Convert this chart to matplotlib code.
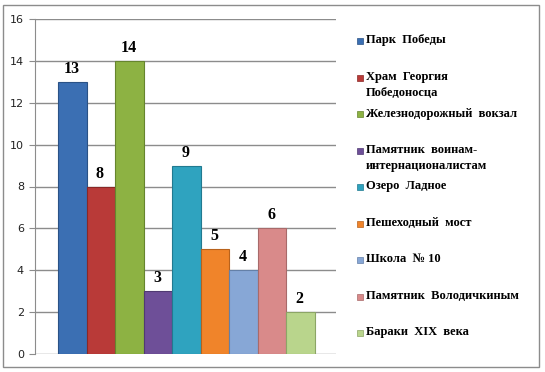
import matplotlib.pyplot as plt
from matplotlib.patches import Rectangle

places = ["Парк  Победы", "Храм  Георгия\nПобедоносца", "Железнодорожный  вокзал",
          "Памятник  воинам-\nинтернационалистам", "Озеро  Ладное", "Пешеходный  мост",
          "Школа  № 10", "Памятник  Володичкиным", "Бараки  XIX  века"]
votes = [13, 8, 14, 3, 9, 5, 4, 6, 2]
colors = ["#3b6fb3", "#b93a38", "#8db243", "#6e4f98", "#2fa3bf",
          "#f0842a", "#87a7d6", "#d98a8a", "#b9d58c"]
edges = ["#2a5286", "#8a2826", "#66852e", "#503a72", "#217a90",
         "#b8621c", "#6480a8", "#a86a6a", "#8ca566"]

W, H = 545, 372
fig = plt.figure(figsize=(W / 100, H / 100), dpi=100)
fig.patches.append(Rectangle((3 / W, 5 / H), 536 / W, 362 / H, transform=fig.transFigure,
                             fill=False, edgecolor="#8c8c8c", linewidth=1))

ax = fig.add_axes([35 / W, 1 - 354 / H, 301 / W, 335 / H])
x = list(range(len(votes)))
ax.bar(x, votes, width=1.0, color=colors, edgecolor=edges, linewidth=0.8, zorder=3)
for xi, v in zip(x, votes):
    ax.annotate(str(v), (xi, v), xytext=(-1, 13), textcoords="offset pixels",
                ha="center", va="center", fontsize=11.5, fontweight="bold",
                family="Liberation Serif", color="black")

ax.set_xlim(-1.31, 9.24)
ax.set_ylim(0, 16)
ax.set_yticks(range(0, 17, 2))
ax.set_xticks([])
ax.grid(axis="y", color="#8c8c8c", linewidth=1, zorder=0)
for s in ["top", "right", "bottom"]:
    ax.spines[s].set_visible(False)
ax.spines["left"].set_color("#8c8c8c")
ax.tick_params(axis="y", length=4, color="#8c8c8c", labelsize=8, labelcolor="#222222", pad=4)

for i, (lab, c, e) in enumerate(zip(places, colors, edges)):
    y = 41 + 36.5 * i
    fig.patches.append(Rectangle((357 / W, 1 - (y + 3) / H), 6 / W, 6 / H,
                                 transform=fig.transFigure, facecolor=c, edgecolor=e, linewidth=0.5))
    fig.text(366 / W, 1 - (y - 6.5) / H, lab, ha="left", va="top", fontsize=9,
             fontweight="bold", family="Liberation Serif", linespacing=1.4)

fig.savefig("out.png", dpi=100)
